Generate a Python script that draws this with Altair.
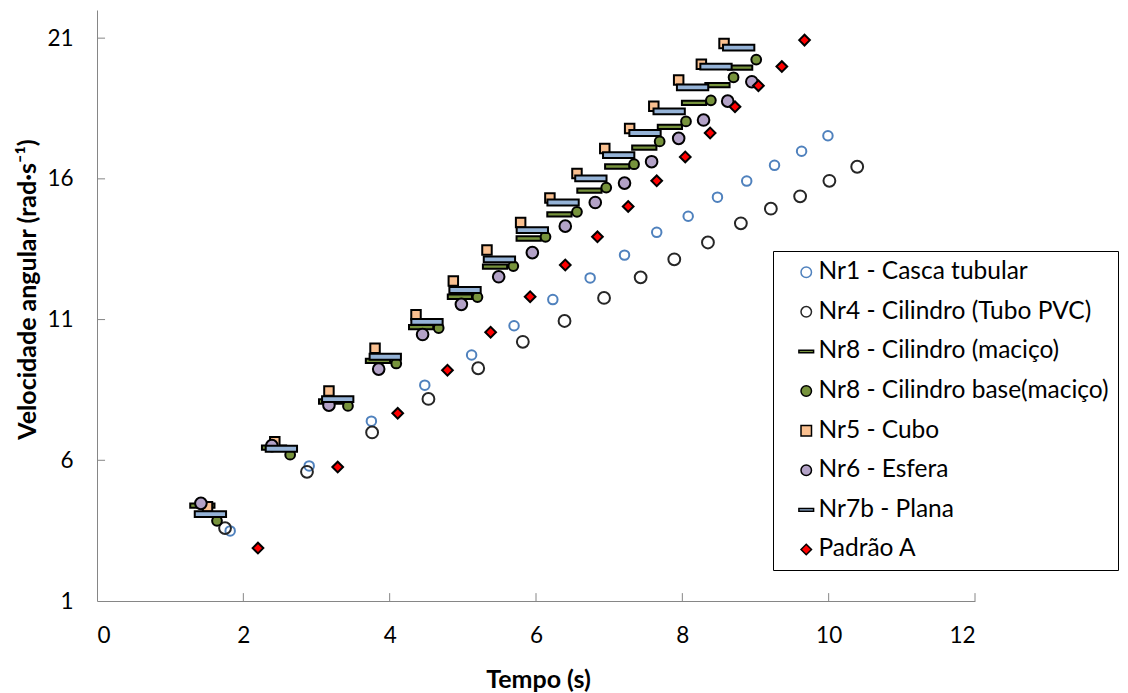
import altair as alt
import pandas as pd

series_names = [
    "Nr1 - Casca tubular",
    "Nr4 - Cilindro (Tubo PVC)",
    "Nr8 - Cilindro (maciço)",
    "Nr8 - Cilindro base(maciço)",
    "Nr5 - Cubo",
    "Nr6 - Esfera",
    "Nr7b - Plana",
    "Padrão A",
]

nr1_t = [1.82, 2.90, 3.75, 4.48, 5.12, 5.70, 6.23, 6.74, 7.21, 7.65, 8.08, 8.48, 8.88, 9.26, 9.63, 9.99]
nr1_w = [3.49, 5.80, 7.39, 8.67, 9.74, 10.78, 11.71, 12.48, 13.29, 14.10, 14.67, 15.35, 15.92, 16.48, 16.98, 17.53]

nr4_t = [1.75, 2.87, 3.76, 4.53, 5.21, 5.82, 6.39, 6.93, 7.43, 7.89, 8.35, 8.80, 9.21, 9.61, 10.01, 10.39]
nr4_w = [3.59, 5.59, 6.99, 8.18, 9.27, 10.21, 10.95, 11.77, 12.50, 13.14, 13.74, 14.42, 14.94, 15.38, 15.93, 16.43]

nr8c_t = [1.44, 2.42, 3.20, 3.84, 4.43, 4.96, 5.44, 5.90, 6.32, 6.73, 7.11, 7.48, 7.83, 8.16, 8.48, 8.79]
nr8c_w = [4.39, 6.45, 8.09, 9.53, 10.73, 11.81, 12.88, 13.88, 14.74, 15.58, 16.44, 17.11, 17.85, 18.70, 19.33, 19.95]

nr8b_t = [1.64, 2.64, 3.43, 4.09, 4.67, 5.20, 5.69, 6.13, 6.56, 6.96, 7.34, 7.69, 8.05, 8.39, 8.70, 9.01]
nr8b_w = [3.85, 6.20, 7.93, 9.44, 10.70, 11.80, 12.90, 13.94, 14.83, 15.69, 16.52, 17.33, 18.04, 18.79, 19.61, 20.24]

nr5_t = [1.51, 2.43, 3.17, 3.80, 4.36, 4.87, 5.33, 5.79, 6.19, 6.56, 6.94, 7.28, 7.61, 7.95, 8.26, 8.57]
nr5_w = [4.35, 6.66, 8.46, 9.98, 11.17, 12.37, 13.47, 14.45, 15.32, 16.19, 17.08, 17.79, 18.58, 19.51, 20.07, 20.81]

nr6_t = [1.42, 2.39, 3.17, 3.85, 4.45, 4.98, 5.49, 5.95, 6.40, 6.81, 7.21, 7.58, 7.95, 8.29, 8.62, 8.95]
nr6_w = [4.47, 6.52, 7.96, 9.24, 10.47, 11.54, 12.52, 13.38, 14.32, 15.16, 15.85, 16.61, 17.44, 18.09, 18.76, 19.45]

nr7b_t = [1.55, 2.52, 3.29, 3.94, 4.51, 5.03, 5.50, 5.95, 6.37, 6.75, 7.13, 7.49, 7.82, 8.14, 8.46, 8.77]
nr7b_w = [4.09, 6.41, 8.17, 9.68, 10.92, 12.05, 13.14, 14.18, 15.16, 16.02, 16.84, 17.63, 18.40, 19.25, 19.99, 20.66]

padrao_t = [2.20, 3.29, 4.11, 4.79, 5.38, 5.92, 6.40, 6.84, 7.26, 7.65, 8.04, 8.38, 8.72, 9.04, 9.36, 9.67]
padrao_w = [2.88, 5.76, 7.67, 9.20, 10.55, 11.81, 12.94, 13.94, 15.02, 15.93, 16.78, 17.63, 18.56, 19.31, 19.99, 20.93]

x_ticks = [0, 2, 4, 6, 8, 10, 12]
y_ticks = [1, 6, 11, 16, 21]

all_t = [nr1_t, nr4_t, nr8c_t, nr8b_t, nr5_t, nr6_t, nr7b_t, padrao_t]
all_w = [nr1_w, nr4_w, nr8c_w, nr8b_w, nr5_w, nr6_w, nr7b_w, padrao_w]

GREEN_DASH = "M-1.4,-0.25L1.4,-0.25L1.4,0.25L-1.4,0.25Z"
BLUE_DASH = "M-1.4,-0.26L1.4,-0.26L1.4,0.26L-1.4,0.26Z"
shapes = ["circle", "circle", GREEN_DASH, "circle", "square", "circle", BLUE_DASH, "diamond"]
fills = ["transparent", "transparent", "#77933C", "#77933C", "#FAC090", "#B3A2C7", "#95B3D7", "#FF0000"]
strokes = ["#4F81BD", "#262626", "#000000", "#000000", "#000000", "#000000", "#000000", "#000000"]
marker_sizes = [90, 140, 300, 95, 90, 135, 500, 115]

rows = []
for name, ts, ws, ms in zip(series_names, all_t, all_w, marker_sizes):
    for t, w in zip(ts, ws):
        rows.append({"series": name, "t": t, "w": w, "msize": ms})
df = pd.DataFrame(rows)

FONT = "Lato"
AXIS_COLOR = "#868686"

x_scale = alt.Scale(domain=[0, 12], nice=False, zero=False)
y_scale = alt.Scale(domain=[1, 22], nice=False, zero=False)

points = alt.Chart(df).mark_point(opacity=1, strokeWidth=2).encode(
    x=alt.X("t:Q", scale=x_scale,
            axis=alt.Axis(values=x_ticks, format="d", title="Tempo (s)", ticks=False, tickSize=0,
                          grid=False, labelPadding=23, domainColor=AXIS_COLOR,
                          titleX=441, titleY=78, titleBaseline="middle", titleAlign="center")),
    y=alt.Y("w:Q", scale=y_scale,
            axis=alt.Axis(values=y_ticks, format="d", title="Velocidade angular (rad·s⁻¹)",
                          ticks=False, tickSize=0, grid=False, labelPadding=24,
                          domainColor=AXIS_COLOR, titleX=-70, titleY=279,
                          titleBaseline="middle", titleAlign="center", titleAngle=270)),
    shape=alt.Shape("series:N", scale=alt.Scale(domain=series_names, range=shapes),
                    legend=alt.Legend(title=None, orient="none", legendX=676, legendY=241,
                                      padding=9, strokeColor="#000000", labelFont=FONT,
                                      labelFontSize=24.5, labelColor="#000000", labelLimit=500,
                                      symbolOffset=12, labelOffset=0, rowPadding=14.6,
                                      symbolSize=110, symbolStrokeWidth=1.5)),
    fill=alt.Fill("series:N", scale=alt.Scale(domain=series_names, range=fills)),
    stroke=alt.Stroke("series:N", scale=alt.Scale(domain=series_names, range=strokes)),
    size=alt.Size("msize:Q", scale=None),
)

x_tick_df = pd.DataFrame({"tx": x_ticks[1:]})
y_tick_df = pd.DataFrame({"ty": y_ticks[1:]})

x_tick_rules = alt.Chart(x_tick_df).mark_rule(color=AXIS_COLOR, strokeWidth=1).encode(
    x=alt.X("tx:Q", scale=x_scale),
    y=alt.datum(1, scale=y_scale),
    y2=alt.datum(1.28),
)
y_tick_rules = alt.Chart(y_tick_df).mark_rule(color=AXIS_COLOR, strokeWidth=1).encode(
    y=alt.Y("ty:Q", scale=y_scale),
    x=alt.datum(0, scale=x_scale),
    x2=alt.datum(0.11),
)

chart = alt.layer(x_tick_rules, y_tick_rules, points).properties(
    width=878,
    height=591,
    background="white",
    autosize=alt.AutoSizeParams(type="none"),
    padding={"left": 97, "top": 10, "right": 153, "bottom": 92},
).configure_view(stroke=None).configure_axis(
    labelFont=FONT, labelFontSize=22.5, labelColor="#000000",
    titleFont=FONT, titleFontSize=25, titleFontWeight="bold", titleColor="#000000",
    domainWidth=1,
)

chart.save("out.html", embed_options={"renderer": "svg", "actions": False})
